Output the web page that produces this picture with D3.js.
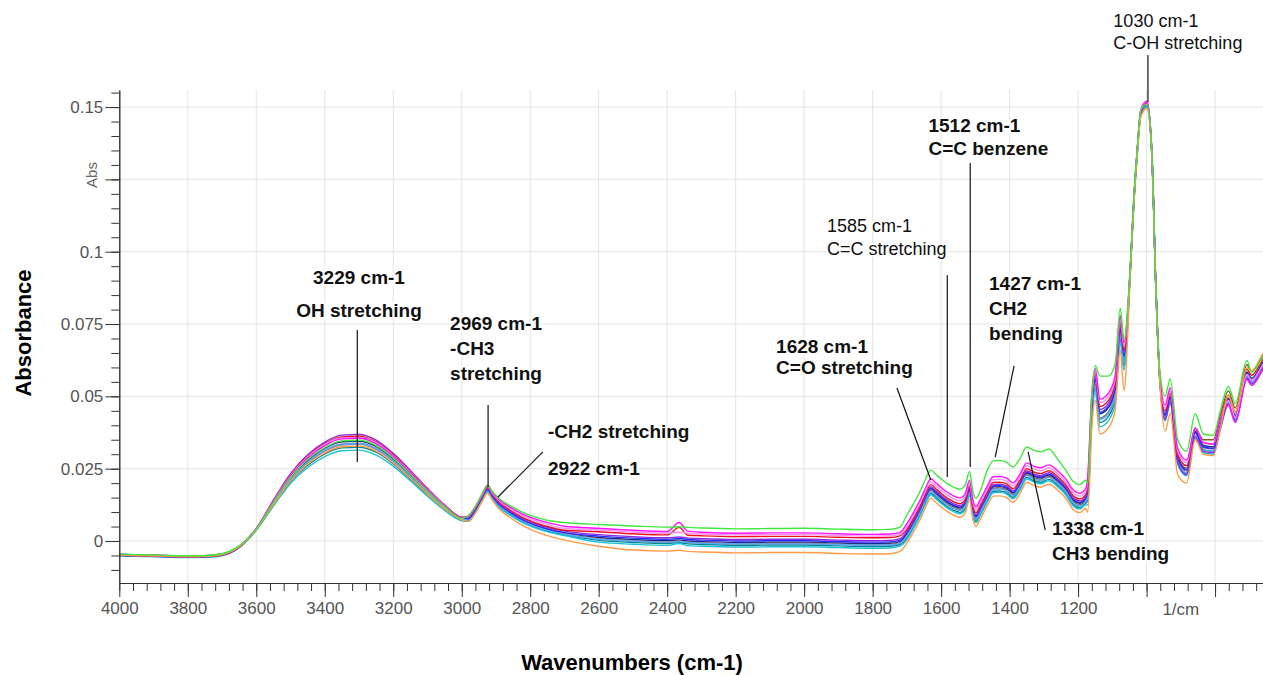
<!DOCTYPE html>
<html><head><meta charset="utf-8">
<script src="https://cdn.jsdelivr.net/npm/d3@7/dist/d3.min.js"></script>
<style>
body{margin:0;background:#fff}
svg{display:block;font-family:"Liberation Sans",Arial,sans-serif}
</style>
</head><body>
<svg id="chart" width="1263" height="675"></svg>
<script>
// ---------- DATA (absorbance values in units of 1e-3 Abs) ----------
const wavenumbers = [
 4000,3950,3900,3850,3800,3750,3700,3650,
 3600,3550,3500,3450,3400,3350,3300,3250,3200,3150,3100,3050,3000,
 2980,2960,2940,2925,2910,2890,2860,2820,2780,2740,2700,
 2600,2500,2400,2365,2340,2300,2200,2100,2000,1900,1800,1750,1720,
 1700,1680,1660,1645,1630,1615,1600,1585,1565,1545,1530,1517,1507,1498,1486,1465,1448,1430,1410,1390,1370,1350,1330,1310,1285,1260,1235,1215,1195,1178,
 1172,1160,1150,1136,1112,1092,1077,1066,
 1047,1037,1027,1017,999,985,980,975,968,961,
 946,931,909,883,858,834,805,785,761,741,707,693,669,660];

const sampleNavy = [
 -4.8,-5.0,-5.1,-5.3,-5.4,-5.3,-4.7,-2.0,
 4.1,13.2,21.8,27.9,32.1,34.3,34.5,32.7,28.4,22.8,17.0,11.7,7.7,
 7.6,10.6,14.8,17.6,15.2,12.4,9.8,7.0,5.1,3.7,2.7,
 1.2,0.5,0.1,0.4,0.0,-0.2,-0.5,-0.4,-0.4,-0.7,-0.9,-0.8,-0.2,
 2.5,6.5,11.0,15.0,18.0,16.5,15.0,13.6,12.2,11.4,12.8,17.5,10.5,8.3,10.7,15.5,18.7,18.8,18.3,16.6,19.5,23.5,22.4,21.8,22.8,20.8,17.8,14.2,13.0,14.5,
 17.0,46.0,55.6,44.0,46.0,52.0,73.0,63.6,
 95,118,135,148,151,135,118,95,72,55.6,
 44,50,29,25,38,33,32.5,40.8,49.4,43.5,58.4,56.3,60,62];

const sampleBrown = [
 -4.7,-4.9,-5.0,-5.2,-5.3,-5.2,-4.6,-1.9,
 4.0,12.9,21.3,27.3,31.3,33.5,33.7,31.9,27.8,22.3,16.7,11.4,7.5,
 7.5,10.5,14.7,17.5,15.1,12.3,9.7,6.9,5.0,3.6,2.6,
 0.8,0.1,-0.3,0.0,-0.4,-0.6,-0.9,-0.8,-0.8,-1.1,-1.3,-1.2,-0.6,
 2.0,6.0,10.5,14.5,17.5,16.0,14.5,13.1,11.7,10.9,12.3,17.0,10.0,7.8,10.2,15.0,18.2,18.3,17.8,16.1,19.0,23.0,21.9,21.3,22.3,20.3,17.3,13.7,12.5,14.0,
 15.5,44.5,54.1,42.5,44.5,50.5,71.5,62.1,
 94.5,117.5,134.5,147.5,150.5,134.5,117.5,94.5,71.5,55.1,
 43,49,28,25,39,35,35,43.3,51.9,46.0,60.9,58.8,62.5,64.5];

const sampleGray = [
 -4.9,-5.0,-5.2,-5.3,-5.5,-5.3,-4.8,-2.0,
 4.0,12.8,21.2,27.0,31.1,33.2,33.4,31.7,27.6,22.1,16.5,11.4,7.5,
 7.3,10.3,14.5,17.3,14.9,12.1,9.5,6.7,4.8,3.4,2.4,
 0.7,0.0,-0.4,-0.2,-0.5,-0.7,-1.0,-0.9,-0.9,-1.2,-1.4,-1.3,-0.7,
 1.8,5.8,10.2,14.2,17.2,15.8,14.2,12.8,11.4,10.6,12.0,16.8,9.8,7.6,10.0,14.8,18.0,18.0,17.6,15.8,18.8,22.8,21.6,21.0,22.0,20.0,17.0,13.4,12.2,13.8,
 15.5,44.5,54.1,42.5,44.5,50.5,71.5,62.1,
 94.8,117.8,134.8,147.8,150.8,134.8,117.8,94.8,71.8,55.4,
 43.2,49.2,28.2,24.2,37.2,32.2,31.8,40.0,48.6,42.8,57.6,55.6,59.2,61.2];

const sampleTeal = [
 -4.9,-5.1,-5.2,-5.4,-5.5,-5.4,-4.8,-2.1,
 3.8,12.4,20.5,26.2,30.1,32.2,32.4,30.7,26.7,21.4,16.0,11.0,7.3,
 7.0,10.0,14.2,17.0,14.6,11.8,9.2,6.4,4.5,3.1,2.1,
 0.2,-0.5,-0.9,-0.6,-1.0,-1.2,-1.5,-1.4,-1.4,-1.7,-1.9,-1.8,-1.2,
 1.0,5.0,9.5,13.5,16.5,15.0,13.5,12.1,10.7,9.9,11.3,16.0,9.0,6.8,9.2,14.0,17.2,17.3,16.8,15.1,18.0,22.0,20.9,20.3,21.3,19.3,16.3,12.7,11.5,13.0,
 14.0,43.0,52.6,41.0,43.0,49.0,70.0,60.6,
 94.5,117.5,134.5,147.5,150.5,134.5,117.5,94.5,71.5,55.1,
 42.5,48.5,27.5,23.5,36.5,31.5,31.0,39.3,47.9,42.0,56.9,54.8,58.5,60.5];

const sampleLightBlue = [
 -5.0,-5.2,-5.4,-5.5,-5.6,-5.6,-5.0,-2.2,
 4.0,12.9,21.4,27.2,31.4,33.5,33.7,31.9,27.8,22.3,16.6,11.4,7.5,
 7.3,10.3,14.5,17.3,14.9,12.1,9.5,6.7,4.8,3.4,2.4,
 0.6,0.0,-0.4,-0.2,-0.5,-0.8,-1.0,-1.0,-1.0,-1.2,-1.4,-1.4,-0.8,
 1.6,5.6,10.2,14.2,17.2,15.6,14.2,12.8,11.4,10.6,12.0,16.6,9.6,7.4,9.8,14.6,17.8,18.0,17.4,15.8,18.6,22.6,21.6,21.0,22.0,20.0,17.0,13.4,12.2,13.6,
 15.0,44.0,53.6,42.0,44.0,50.0,71.0,61.6,
 94.8,117.8,134.8,147.8,150.8,134.8,117.8,94.8,71.8,55.4,
 42.5,48.5,27.5,23.5,36.5,31.5,31.0,39.3,47.9,42.0,56.9,54.8,58.5,60.5];

const sampleCyan = [
 -5.1,-5.3,-5.4,-5.6,-5.7,-5.6,-5.0,-2.3,
 3.7,12.0,19.9,25.4,29.2,31.2,31.4,29.7,25.9,20.8,15.5,10.6,7.0,
 6.8,9.8,14.0,16.8,14.4,11.6,9.0,6.2,4.3,2.9,1.9,
 -0.4,-1.1,-1.5,-0.9,-1.6,-1.8,-2.1,-2.0,-2.0,-2.3,-2.5,-2.4,-1.8,
 0.5,4.5,9.0,13.0,16.0,14.5,13.0,11.6,10.2,9.4,10.8,15.5,8.5,6.3,8.7,13.5,16.7,16.8,16.3,14.6,17.5,21.5,20.4,19.8,20.8,18.8,15.8,12.2,11.0,12.5,
 12.5,41.5,51.1,39.5,41.5,47.5,68.5,59.1,
 94,117,134,147,150,134,117,94,71,54.6,
 41.5,47.5,26.5,22.5,35.5,30.5,30.0,38.3,46.9,41.0,55.9,53.8,57.5,59.5];

const sampleBlue = [
 -5.0,-5.2,-5.3,-5.5,-5.6,-5.5,-4.9,-2.2,
 4.2,13.8,22.8,29.1,33.5,35.8,36.0,34.1,29.6,23.8,17.8,12.2,8.0,
 7.8,10.8,15.0,17.8,15.4,12.6,10.0,7.2,5.3,3.9,2.9,
 1.7,1.0,0.6,0.9,0.5,0.3,0.0,0.1,0.1,-0.2,-0.4,-0.3,0.3,
 2.8,6.8,11.3,15.3,18.3,16.8,15.3,13.9,12.5,11.7,13.1,17.8,10.8,8.6,11.0,15.8,19.0,19.1,18.6,16.9,19.8,23.8,22.7,22.1,23.1,21.1,18.1,14.5,13.3,14.8,
 17.5,46.5,56.1,44.5,46.5,52.5,73.5,64.1,
 95.5,118.5,135.5,148.5,151.5,135.5,118.5,95.5,72.5,56.1,
 43.5,49.5,28.5,24.5,37.5,32.5,32.0,40.3,48.9,43.0,57.9,55.8,59.5,61.5];

const samplePurple = [
 -4.6,-4.8,-4.9,-5.1,-5.2,-5.1,-4.5,-1.8,
 4.3,14.1,23.3,29.8,34.2,36.6,36.8,34.9,30.3,24.4,18.2,12.5,8.2,
 8.3,11.3,15.5,18.3,15.9,13.1,10.5,7.7,5.8,4.4,3.4,
 2.2,1.5,1.1,1.4,1.0,0.8,0.5,0.6,0.6,0.3,0.1,0.2,0.8,
 3.3,7.3,11.8,15.8,18.8,17.3,15.8,14.4,13.0,12.2,13.6,18.3,11.3,9.1,11.5,16.3,19.5,19.6,19.1,17.4,20.3,24.3,23.2,22.6,23.6,21.6,18.6,15.0,13.8,15.3,
 18.5,47.5,57.1,45.5,47.5,53.5,74.5,65.1,
 95,118,135,148,151,135,118,95,72,55.6,
 42,48,27,23,36,31,30.5,38.8,47.4,41.5,56.4,54.3,58,60];

const sampleRed = [
 -4.9,-5.1,-5.2,-5.4,-5.5,-5.4,-4.8,-2.1,
 4.3,13.8,22.9,29.3,33.7,36.0,36.2,34.3,29.8,24.0,17.9,12.3,8.1,
 8.6,11.6,15.8,18.6,16.2,13.4,10.8,8.0,6.1,4.7,3.7,
 3.2,2.5,2.1,4.7,2.0,1.8,1.5,1.6,1.6,1.3,1.1,1.2,1.8,
 4.0,8.0,12.5,16.5,19.5,18.0,16.5,15.1,13.7,12.9,14.3,19.0,12.0,9.8,12.2,17.0,20.2,20.3,19.8,18.1,21.0,25.0,23.9,23.3,24.3,22.3,19.3,15.7,14.5,16.0,
 19.5,48.5,58.1,46.5,48.5,54.5,75.5,66.1,
 95.5,118.5,135.5,148.5,151.5,135.5,118.5,95.5,72.5,56.1,
 45,51,30,26,39,34,33.5,41.8,50.4,44.5,59.4,57.3,61,63];

const samplePink = [
 -4.7,-5.0,-5.0,-5.2,-5.4,-5.2,-4.6,-2.0,
 4.2,13.7,22.7,29.0,33.4,35.6,35.8,34.0,29.5,23.8,17.7,12.2,8.0,
 8.7,11.8,16.0,18.9,16.5,13.8,11.3,8.6,6.8,5.4,4.4,
 3.8,3.1,2.7,3.0,2.7,2.4,2.1,2.2,2.2,1.9,1.7,1.8,2.4,
 5.0,9.0,13.5,17.5,20.5,19.0,17.5,16.1,14.7,13.9,15.3,20.0,13.0,10.8,13.2,18.0,21.2,21.3,20.8,19.1,22.0,26.0,24.9,24.3,25.3,23.3,20.3,16.7,15.5,17.0,
 20.8,49.8,58.9,47.8,49.8,55.8,76.8,67.4,
 95.8,118.8,135.8,148.8,151.8,135.8,118.8,95.8,72.8,56.4,
 46,52,31,27,39,34,33.5,41.8,48.6,42.8,57.6,55.6,59.2,61.2];

const sampleMagenta = [
 -4.6,-4.8,-4.9,-5.1,-5.2,-5.1,-4.5,-1.8,
 4.2,13.6,22.5,28.7,33.0,35.3,35.5,33.6,29.2,23.5,17.5,12.0,7.9,
 8.8,11.9,16.2,19.1,16.8,14.2,11.8,9.2,7.4,6.1,5.1,
 4.4,3.7,3.3,6.4,3.4,3.0,2.7,2.8,2.8,2.5,2.3,2.4,3.0,
 6.0,10.0,14.5,18.5,21.5,20.0,18.5,17.1,15.7,14.9,16.3,21.0,14.0,11.8,14.2,19.0,22.2,22.3,21.8,20.1,23.0,27.0,25.9,25.3,26.3,24.3,21.3,17.7,16.5,18.0,
 22.0,51.0,59.6,49.0,51.0,57.0,78.0,68.6,
 96,119,136,149,152,136,119,96,73,56.6,
 47,53,32,28,39,34,33.5,41.8,46.9,41.0,55.9,53.8,57.5,59.5];

const sampleOrange = [
 -4.8,-5.0,-5.1,-5.3,-5.4,-5.3,-4.7,-2.0,
 3.9,12.5,20.7,26.5,30.5,32.6,32.8,31.1,27.0,21.7,16.2,11.1,7.3,
 6.8,9.7,13.8,16.5,14.0,11.0,8.2,5.2,3.1,1.5,0.3,
 -1.8,-3.1,-3.5,-3.2,-3.6,-3.8,-4.1,-4.0,-4.0,-4.3,-4.5,-4.4,-3.6,
 -0.7,3.3,7.8,11.8,14.8,13.3,11.8,10.4,9.0,8.2,9.6,14.3,7.3,5.1,7.5,12.3,15.5,15.6,15.1,13.4,16.3,20.3,19.2,18.6,19.6,17.6,14.6,11.0,9.8,11.3,
 10.0,39.0,48.6,37.0,39.0,45.0,66.0,52.0,
 93.5,116.5,133.5,146.5,149.5,133.5,116.5,93.5,70.5,54.1,
 38,44,23,20,35,30,29.5,38.8,50.4,44.5,59.9,58.8,63,65];

const sampleGreen = [
 -4.5,-4.7,-4.8,-5.0,-5.1,-5.0,-4.4,-1.7,
 4.1,13.3,22.0,28.2,32.3,34.6,34.8,33.0,28.7,23.0,17.2,11.8,7.8,
 8.8,12.0,16.4,19.3,17.1,14.6,12.3,9.8,8.1,6.9,6.4,
 5.7,5.2,4.8,4.9,4.7,4.5,4.2,4.3,4.4,4.1,3.9,4.0,4.8,
 9.0,13.0,17.5,21.5,24.5,23.0,21.5,20.1,18.7,17.9,19.3,24.0,17.0,14.8,17.2,24.5,27.7,27.8,27.3,25.6,28.5,32.5,31.4,30.8,31.8,28.3,24.3,20.7,19.5,21.0,
 20.0,50.0,60.6,57.0,57.0,61.0,80.5,69.6,
 96,119,136,149,151,136,119,96,73,58.6,
 50,56,35,31,44,37,36.5,44.8,53.4,47.5,62.4,58.3,62,64];

const seriesData = [sampleNavy, sampleBrown, sampleGray, sampleTeal, sampleLightBlue, sampleCyan, sampleBlue,
                    samplePurple, sampleRed, samplePink, sampleMagenta, sampleOrange, sampleGreen];
const seriesColors = ["#1b2a88","#7d5a2c","#8a8a8a","#00888c","#5aa6ff","#1cc2d8","#2b2bff",
                      "#8a2be2","#e8141c","#ff8cf0","#ff12ff","#ff9a45","#3fe83f"];

const xMajorTicks = [4000,3800,3600,3400,3200,3000,2800,2600,2400,2200,2000,1800,1600,1400,1200,1000,800];
const xTickLabels = ["4000","3800","3600","3400","3200","3000","2800","2600","2400","2200","2000","1800","1600","1400","1200","",""];
const yMajorTicks = [0,0.025,0.05,0.075,0.1,0.125,0.15];
const yTickLabels = ["0","0.025","0.05","0.075","0.1","","0.15"];

const annotationLabels = [
 ["3229 cm-1","OH stretching"],
 ["2969 cm-1","-CH3","stretching"],
 ["-CH2 stretching","2922 cm-1"],
 ["1628 cm-1","C=O stretching"],
 ["1585 cm-1","C=C stretching"],
 ["1512 cm-1","C=C benzene"],
 ["1427 cm-1","CH2","bending"],
 ["1338 cm-1","CH3 bending"],
 ["1030 cm-1","C-OH stretching"]];

// ---------- LAYOUT (annotation placement in data units, styles) ----------
const annotationLayout = [
 {tw:3300, ta:0.0888, anchor:"middle", gap:33, bold:true,  line:[3305,0.0729,3305,0.0273]},
 {tw:3034, ta:0.0729, anchor:"start",  gap:25, bold:true,  line:[2923,0.0470,2923,0.0187]},
 {tw:2748, ta:0.0356, anchor:"start",  gap:37, bold:true,  line:[2763,0.0308,2894,0.0152]},
 {tw:2082, ta:0.0650, anchor:"start",  gap:21, bold:true,  line:[1729,0.0529,1630,0.0211]},
 {tw:1933, ta:0.1068, anchor:"start",  gap:23, bold:false, line:[1582,0.0919,1582,0.0221]},
 {tw:1637, ta:0.1414, anchor:"start",  gap:23, bold:true,  line:[1515,0.1307,1515,0.0256]},
 {tw:1460, ta:0.0868, anchor:"start",  gap:25, bold:true,  line:[1387,0.0605,1442,0.0290]},
 {tw:1276, ta:0.0021, anchor:"start",  gap:25, bold:true,  line:[1346,0.0308,1296,0.0038]},
 {tw:1097, ta:0.1777, anchor:"start",  gap:22, bold:false, line:[996,0.1680,996,0.1517]}];

const svg = d3.select("#chart");
const x = d3.scaleLinear().domain([4000, 660]).range([119.3, 1263]);
const y = d3.scaleLinear().domain([-0.01452, 0.1559]).range([583, 90]);

// grid
const grid = svg.append("g").attr("stroke","#e4e4e4").attr("stroke-width",1);
grid.selectAll("line.v").data(xMajorTicks.slice(1)).join("line")
  .attr("x1",d=>x(d)).attr("x2",d=>x(d)).attr("y1",y.range()[1]).attr("y2",y.range()[0]);
grid.selectAll("line.h").data(yMajorTicks).join("line")
  .attr("y1",d=>y(d)).attr("y2",d=>y(d)).attr("x1",x.range()[0]).attr("x2",x.range()[1]);

// spectra
const line = d3.line().x(d=>x(d[0])).y(d=>y(d[1]/1000)).curve(d3.curveMonotoneX);
svg.append("g").selectAll("path").data(seriesData).join("path")
  .attr("d",vals=>line(wavenumbers.map((w,i)=>[w,vals[i]])))
  .attr("fill","none").attr("stroke",(d,i)=>seriesColors[i])
  .attr("stroke-width",1.4).attr("stroke-linejoin","round");

// axes
const yMinor = d3.range(-0.01, 0.1551, 0.005).map(v=>+v.toFixed(3));
const xMinor = d3.range(4000, 659, -40);
function styleAxis(g){
  g.select(".domain").attr("stroke","#333");
  g.selectAll(".tick line").attr("stroke","#333");
  g.selectAll(".tick text").attr("fill","#555").attr("font-size",17)
    .attr("font-family","'Liberation Sans',Arial,sans-serif");
}
svg.append("g").attr("transform",`translate(${x.range()[0]},0)`)
  .call(d3.axisLeft(y).tickValues(yMinor).tickSize(8).tickSizeOuter(0).tickFormat(""))
  .call(styleAxis);
svg.append("g").attr("transform",`translate(${x.range()[0]},0)`)
  .call(d3.axisLeft(y).tickValues(yMajorTicks).tickSize(14).tickSizeOuter(0).tickPadding(2)
        .tickFormat((d,i)=>yTickLabels[i]))
  .call(styleAxis);
svg.append("g").attr("transform",`translate(0,${y.range()[0]})`)
  .call(d3.axisBottom(x).tickValues(xMinor).tickSize(8).tickSizeOuter(0).tickFormat(""))
  .call(styleAxis);
svg.append("g").attr("transform",`translate(0,${y.range()[0]})`)
  .call(d3.axisBottom(x).tickValues(xMajorTicks).tickSize(14).tickSizeOuter(0).tickPadding(5)
        .tickFormat((d,i)=>xTickLabels[i]))
  .call(styleAxis);

// unit labels
svg.append("text").attr("x",x(900)).attr("y",y.range()[0]+32).attr("text-anchor","middle")
  .attr("fill","#555").attr("font-size",17).text("1/cm");
svg.append("text").attr("transform",`translate(97,${y(0.1265)}) rotate(-90)`).attr("text-anchor","middle")
  .attr("fill","#666").attr("font-size",15).text("Abs");

// axis titles
svg.append("text").attr("transform",`translate(31,333) rotate(-90)`).attr("text-anchor","middle")
  .attr("font-weight","bold").attr("font-size",22).attr("fill","#000").text("Absorbance");
svg.append("text").attr("x",632).attr("y",670).attr("text-anchor","middle")
  .attr("font-weight","bold").attr("font-size",22).attr("fill","#000").text("Wavenumbers (cm-1)");

// annotations
const ann = svg.append("g");
annotationLayout.forEach((L,k)=>{
  ann.append("line").attr("x1",x(L.line[0])).attr("y1",y(L.line[1]))
    .attr("x2",x(L.line[2])).attr("y2",y(L.line[3])).attr("stroke","#111").attr("stroke-width",1.2);
  annotationLabels[k].forEach((t,j)=>{
    ann.append("text").attr("x",x(L.tw)).attr("y",y(L.ta)+j*L.gap)
      .attr("text-anchor",L.anchor).attr("font-size",L.bold?19:18)
      .attr("font-weight",L.bold?"bold":"normal").attr("fill","#111")
      .attr("stroke","#fff").attr("stroke-width",4).attr("paint-order","stroke")
      .text(t);
  });
});
</script>
</body></html>
